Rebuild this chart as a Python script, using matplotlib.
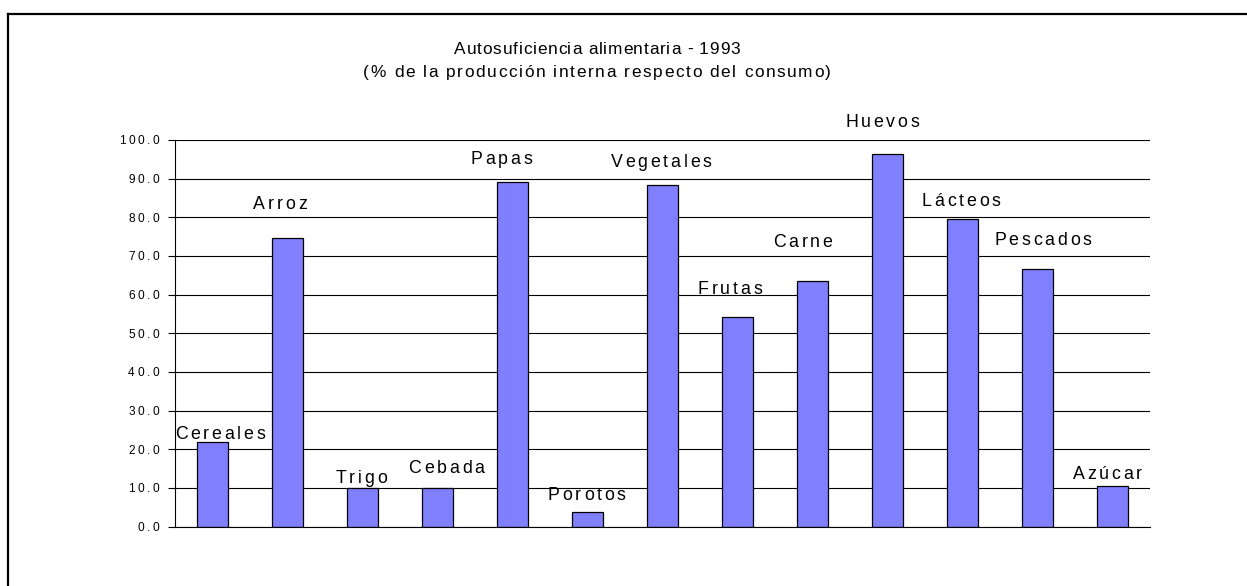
import matplotlib
matplotlib.use("Agg")
import matplotlib.pyplot as plt
import numpy as np
from matplotlib import font_manager
from matplotlib.font_manager import FontProperties
from matplotlib.ft2font import FT2Font
from matplotlib.lines import Line2D

FONT = "Liberation Sans"

categories = ["Cereales", "Arroz", "Trigo", "Cebada", "Papas", "Porotos", "Vegetales",
              "Frutas", "Carne", "Huevos", "Lácteos", "Pescados", "Azúcar"]
values = [22.0, 74.6, 10.0, 10.0, 89.1, 3.7, 88.4, 54.3, 63.6, 96.5, 79.6, 66.6, 10.6]
yticks = [0, 10, 20, 30, 40, 50, 60, 70, 80, 90, 100]
title_lines = ["Autosuficiencia alimentaria - 1993",
               "(% de la producción interna respecto del consumo)"]

# where the category names sit (hand placed in the original chart)
label_dx = [0.10, -0.10, -0.02, 0.12, -0.15, -0.01, -0.02, -0.10, -0.13, -0.07, -0.02, 0.07, -0.07]
label_y = [22.6, 82.2, 11.2, 13.8, 93.8, 6.9, 93.1, 60.2, 72.3, 103.4, 82.9, 72.8, 12.3]

W, H = 1247, 586


def char_advances(text, size):
    font = FT2Font(font_manager.findfont(FontProperties(family=FONT)))
    font.set_size(size, 72)
    return [font.load_char(ord(c)).linearHoriAdvance / 65536 for c in text]


def tracked_text(ax, x, y, text, size, tracking, coords="data", ha="center", dx=0.0, dy=0.0):
    # letter-spaced text, one glyph at a time
    adv = char_advances(text, size)
    total = sum(adv) + tracking * (len(text) - 1)
    pos = dx + {"center": -total / 2, "right": -total, "left": 0.0}[ha]
    for ch, a in zip(text, adv):
        if ch != " ":
            ax.annotate(ch, xy=(x, y), xycoords=coords, xytext=(pos, dy),
                        textcoords="offset points", ha="left", va="baseline",
                        fontsize=size, family=FONT, color="black", annotation_clip=False)
        pos += a + tracking


fig = plt.figure(figsize=(W / 100, H / 100), dpi=100)
ax = fig.add_axes([175 / W, 1 - 526.7 / H, (1150 - 175) / W, (526.7 - 140) / H])

x = np.arange(len(categories))
ax.bar(x, values, width=0.41, color="#8080FF", edgecolor="black", linewidth=0.9, zorder=3)
ax.set_xlim(-0.5, len(categories) - 0.5)
ax.set_ylim(0, 100)
ax.set_xticks([])
ax.set_yticks(yticks)
ax.set_yticklabels([])
ax.tick_params(axis="y", direction="out", length=5, width=0.8, color="black")
ax.yaxis.grid(True, color="black", linewidth=0.8)
ax.set_axisbelow(True)
for side in ["top", "right"]:
    ax.spines[side].set_visible(False)
for side in ["left", "bottom"]:
    ax.spines[side].set_linewidth(0.8)
    ax.spines[side].set_zorder(4)

for v in yticks:
    tracked_text(ax, 0, v, f"{v:.1f}", 8.6, 1.8, coords=ax.get_yaxis_transform(),
                 ha="right", dx=-11.5, dy=-3.0)

for i, name in enumerate(categories):
    tracked_text(ax, x[i] + label_dx[i], label_y[i], name, 12.8, 2.0)

tracked_text(ax, 597 / W, 1 - 54 / H, title_lines[0], 12.4, 0.6, coords="figure fraction")
tracked_text(ax, 597 / W, 1 - 76.7 / H, title_lines[1], 12.4, 1.2, coords="figure fraction")

# outer frame (top and left edges only are visible)
fig.add_artist(Line2D([8 / W, 1], [1 - 14 / H] * 2, transform=fig.transFigure, color="black", lw=1.6))
fig.add_artist(Line2D([8 / W] * 2, [0, 1 - 14 / H], transform=fig.transFigure, color="black", lw=1.6))

fig.savefig("out.png", dpi=100)
